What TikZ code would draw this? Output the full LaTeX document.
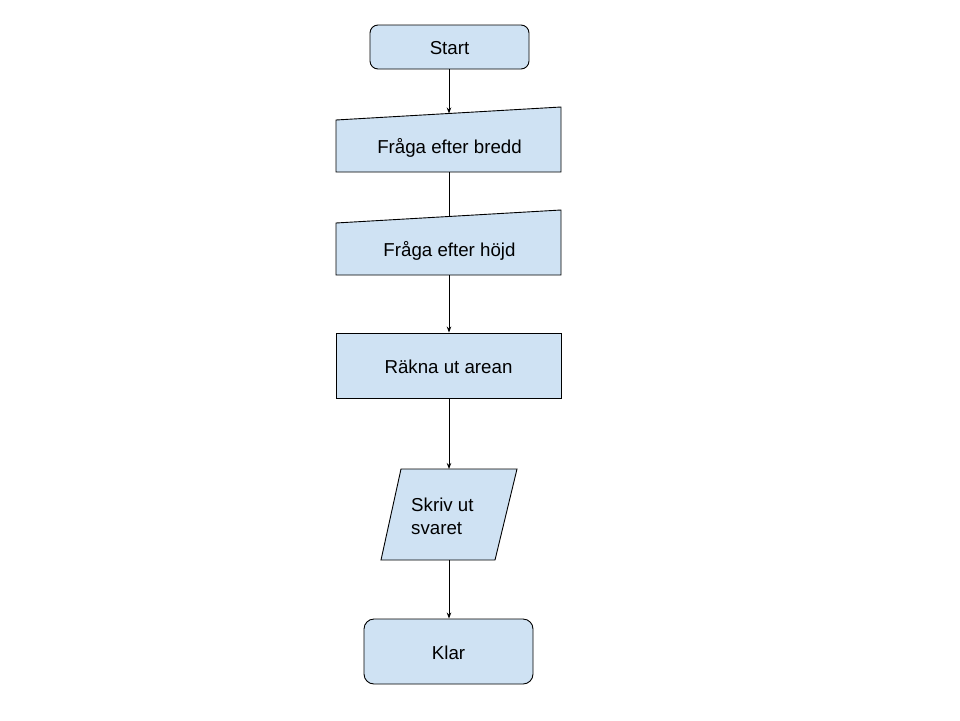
\documentclass[tikz,border=0pt]{standalone}
\usepackage{fontspec}
\setmainfont{Liberation Sans}
\usetikzlibrary{arrows.meta}
\definecolor{boxfill}{HTML}{CFE2F3}
\begin{document}
\begin{tikzpicture}[x=1pt,y=-1pt,
  box/.style={draw=black,fill=boxfill,line width=0.9pt,inner sep=0pt},
  lbl/.style={font=\fontsize{18.7}{23}\selectfont,inner sep=0pt},
  arr/.style={line width=0.9pt,-{Stealth[length=6pt,width=4.5pt]}},
  ln/.style={line width=0.9pt}]
\useasboundingbox[fill=white] (0,0) rectangle (960,720);
% Start
\node[box,rounded corners=8pt,minimum width=159pt,minimum height=44pt] (start) at (449.5,47) {};
\node[lbl] (starttxt) at (449.5,48) {Start};
% Fraga efter bredd (manual input)
\draw[box] (336,120) -- (561,107) -- (561,172) -- (336,172) -- cycle;
\coordinate (bredtop) at (449,113.5);
\coordinate (bredbot) at (449,172);
\node[lbl] (bred) at (449.5,148) {Fråga efter bredd};
% Fraga efter hojd
\draw[box] (336,223) -- (561,210) -- (561,275) -- (336,275) -- cycle;
\coordinate (hojdtop) at (449,216.5);
\coordinate (hojdbot) at (449,275);
\node[lbl] (hojd) at (449.5,251) {Fråga efter höjd};
% Rakna ut arean
\node[box,minimum width=225pt,minimum height=65pt] (rakna) at (448.5,365.5) {};
\node[lbl] (raknatxt) at (448.5,367) {Räkna ut arean};
% Skriv ut svaret (parallelogram)
\draw[box] (401,469) -- (517,469) -- (495,560) -- (381,560) -- cycle;
\coordinate (skrivtop) at (449,469);
\coordinate (skrivbot) at (449,560);
\node[lbl,align=left,anchor=west] (skriv) at (411,516.5) {Skriv ut\\svaret};
% Klar
\node[box,rounded corners=10pt,minimum width=169pt,minimum height=65pt] (klar) at (448.5,651.5) {};
\node[lbl] (klartxt) at (448.5,653) {Klar};
% connectors
\draw[arr] (start.south -| bredtop) -- (bredtop);
\draw[ln] (bredbot) -- (hojdtop);
\draw[arr] (hojdbot) -- (rakna.north -| hojdbot);
\draw[arr] (rakna.south -| skrivtop) -- (skrivtop);
\draw[arr] (skrivbot) -- (klar.north -| skrivbot);
\end{tikzpicture}
\end{document}
